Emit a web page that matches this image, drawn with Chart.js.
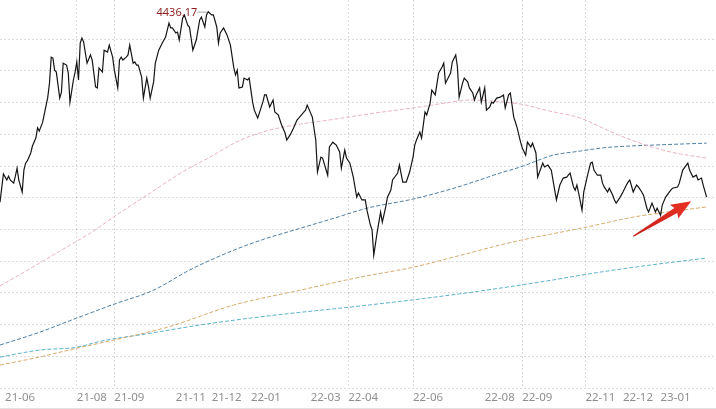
<!DOCTYPE html>
<html>
<head>
<meta charset="utf-8">
<script src="https://cdn.jsdelivr.net/npm/chart.js@4.4.1/dist/chart.umd.min.js"></script>
<style>
  html, body { margin: 0; padding: 0; background: #fff; }
  #wrap { width: 716px; height: 408px; border-bottom: 1px solid #e2e2e2; }
  canvas { display: block; }
</style>
</head>
<body>
<div id="wrap"><canvas id="myChart" width="716" height="408"></canvas></div>
<script>
// x = trading day index, y = index level
const priceDays = [0,2,4,5,6,8,9,10,11,13,14,15,16,18,19,21,22,23,25,28,29,30,31,32,33,35,36,37,39,40,41,43,44,45,46,47,48,49,50,51,53,54,56,57,58,60,61,63,64,66,67,69,70,71,72,74,75,76,78,79,80,81,83,84,86,87,88,90,91,93,95,97,98,99,100,101,103,104,105,107,108,110,111,113,115,117,118,120,121,122,124,125,127,128,129,131,133,135,137,138,139,140,142,143,145,146,148,149,151,154,155,156,158,160,161,163,165,167,168,170,172,174,175,178,179,180,183,185,186,188,189,192,193,195,197,199,200,202,203,205,207,209,210,212,214,215,217,218,219,221,223,224,226,227,229,230,233,234,236,238,240,242,243,244,246,247,249,250,252,253,255,257,259,260,261,264,265,267,268,269,271,272,274,275,277,278,279,281,282,284,285,287,288,289,291,293,295,296,298,299,301,302,303,305,306,308,309,311,312,314,315,318,319,321,323,325,326,328,330,332,334,336,337,338,339,341,342,344,346,347,348,350,352,353,354,356,357,359,360,361,363,365,367,368,369,371,372,373,374,376,377,379,380,382,384,385,387,388,390,393,394,397,398,400,403,404,406,408,409,411,412,414]
const priceValues = [3836,3925,3906,3918,3906,3896,3918,3943,3906,3868,3937,3959,3966,3991,4013,4038,4070,4060,4088,4167,4211,4293,4290,4252,4246,4164,4183,4274,4268,4243,4151,4221,4246,4278,4221,4337,4353,4341,4306,4274,4300,4284,4199,4196,4259,4246,4315,4309,4331,4293,4252,4196,4284,4293,4284,4293,4300,4331,4274,4278,4268,4268,4230,4164,4227,4199,4164,4215,4274,4315,4337,4356,4378,4400,4385,4385,4369,4372,4347,4416,4426,4394,4388,4315,4347,4410,4419,4388,4426,4436.17,4426,4426,4388,4337,4369,4385,4363,4331,4259,4237,4252,4196,4199,4227,4221,4227,4151,4126,4101,4151,4174,4174,4136,4158,4120,4111,4079,4054,4032,4048,4070,4095,4101,4120,4126,4142,4104,4032,3931,3978,3975,3921,4010,4025,4016,3994,3943,4000,3975,3959,3915,3852,3865,3843,3843,3811,3764,3748,3669,3742,3805,3773,3821,3852,3874,3906,3928,3953,3899,3899,3931,3978,4016,4032,4057,4038,4120,4111,4148,4189,4174,4243,4262,4274,4211,4243,4278,4300,4262,4167,4211,4227,4215,4196,4180,4158,4174,4196,4151,4196,4126,4136,4151,4148,4164,4167,4174,4133,4174,4180,4104,4088,4070,4025,4007,3984,4025,4010,4022,3991,3915,3959,3947,3953,3937,3874,3843,3890,3912,3915,3928,3884,3874,3890,3865,3811,3868,3915,3959,3962,3937,3921,3921,3896,3884,3868,3880,3858,3843,3833,3849,3868,3890,3899,3906,3868,3880,3890,3884,3868,3858,3817,3805,3833,3805,3817,3795,3827,3852,3874,3880,3884,3896,3937,3959,3937,3915,3921,3906,3912,3890,3852]

// moving averages
const pinkDays = [0,18,35,53,70,88,105,123,141,158,176,193,211,228,246,264,275,287,305,322,340,357,375,393,414]
const pinkValues = [3572,3628,3682,3739,3802,3865,3925,3978,4032,4063,4082,4095,4110,4123,4136,4151,4158,4155,4145,4123,4101,4060,4022,3994,3975]
const blueDays = [0,23,45,67,90,111,137,155,176,196,215,242,264,281,293,305,324,340,353,369,383,398,414]
const blueValues = [3386,3426,3471,3515,3559,3622,3685,3720,3754,3786,3817,3846,3877,3906,3928,3947,3984,3997,4007,4013,4016,4019,4022]
const orangeDays = [0,23,45,66,98,137,176,211,242,270,293,305,344,371,387,414]
const orangeValues = [3323,3348,3376,3401,3442,3512,3559,3600,3631,3669,3701,3716,3758,3789,3802,3821]
const cyanDays = [0,23,45,59,88,117,156,211,246,281,316,352,381,414]
const cyanValues = [3348,3370,3379,3398,3423,3449,3477,3509,3531,3556,3584,3616,3638,3660]

// axis
const monthLabels = ['21-06','21-08','21-09','21-11','21-12','22-01','22-03','22-04','22-06','22-08','22-09','22-11','22-12','23-01']
const monthDays = [3,45,67,103,124,147,182,204,242,284,306,343,365,387]
const gridMonths = ['21-08','21-09','22-04','22-06','22-09','22-11']
const levelGrid = [3250,3350,3450,3550,3650,3750,3850,3950,4050,4150,4250,4350]

const arrowFrom = {x: 371, y: 3729}
const arrowTo = {x: 405, y: 3839}

const gridColor = 'rgba(0,0,0,0.14)'

function pts(days, vals) {
  return days.map((d, i) => ({x: d, y: vals[i]}))
}

function maLine(days, vals, color) {
  return {
    data: pts(days, vals),
    borderColor: color,
    borderWidth: 1,
    borderDash: [4, 2],
    pointRadius: 0,
    cubicInterpolationMode: 'monotone',
    fill: false
  }
}

const extras = {
  id: 'extras',
  afterDatasetsDraw(chart) {
    const c = chart.ctx
    const xs = chart.scales.x, ys = chart.scales.y

    // max label
    let mi = 0
    priceValues.forEach((v, i) => { if (v > priceValues[mi]) mi = i })
    const px = xs.getPixelForValue(priceDays[mi])
    const py = ys.getPixelForValue(priceValues[mi])
    c.save()
    c.strokeStyle = '#a8a8a8'
    c.lineWidth = 1
    c.beginPath()
    c.moveTo(px - 11, py + 0.5)
    c.lineTo(px - 1, py + 0.5)
    c.stroke()
    c.font = '11px "Noto Sans"'
    c.fillStyle = '#8e1f1f'
    c.textAlign = 'right'
    c.textBaseline = 'middle'
    c.fillText(priceValues[mi].toFixed(2), px - 11, py + 1)

    // red arrow
    const fx = xs.getPixelForValue(arrowFrom.x), fy = ys.getPixelForValue(arrowFrom.y)
    const tx = xs.getPixelForValue(arrowTo.x), ty = ys.getPixelForValue(arrowTo.y)
    const len = Math.hypot(tx - fx, ty - fy)
    const ux = (tx - fx) / len, uy = (ty - fy) / len
    const nx = -uy, ny = ux
    const headLen = 18, headW = 8, neckW = 2.8, tailW = 0.6
    const bx = tx - ux * headLen, by = ty - uy * headLen
    const g = c.createLinearGradient(fx, fy, tx, ty)
    g.addColorStop(0, '#c51d16')
    g.addColorStop(1, '#ea3326')
    c.fillStyle = g
    c.beginPath()
    c.moveTo(fx + nx * tailW, fy + ny * tailW)
    c.lineTo(bx + nx * neckW, by + ny * neckW)
    c.lineTo(bx + nx * headW - ux * 2, by + ny * headW - uy * 2)
    c.lineTo(tx, ty)
    c.lineTo(bx - nx * headW - ux * 2, by - ny * headW - uy * 2)
    c.lineTo(bx - nx * neckW, by - ny * neckW)
    c.lineTo(fx - nx * tailW, fy - ny * tailW)
    c.closePath()
    c.fill()
    c.restore()
  }
}

const ctx = document.getElementById('myChart').getContext('2d')
new Chart(ctx, {
  type: 'line',
  data: {
    datasets: [
      {
        data: pts(priceDays, priceValues),
        borderColor: '#151515',
        borderWidth: 1.2,
        pointRadius: 0,
        tension: 0,
        fill: false
      },
      maLine(pinkDays, pinkValues, '#e9b3bd'),
      maLine(blueDays, blueValues, '#4f7fa3'),
      maLine(orangeDays, orangeValues, '#d6ab6c'),
      maLine(cyanDays, cyanValues, '#5db2cc')
    ]
  },
  options: {
    responsive: false,
    animation: false,
    devicePixelRatio: 1,
    layout: { padding: { bottom: 0 } },
    plugins: { legend: { display: false }, tooltip: { enabled: false } },
    scales: {
      x: {
        type: 'linear',
        min: 0,
        max: 419.5,
        afterBuildTicks: s => { s.ticks = monthDays.map(v => ({value: v})) },
        ticks: {
          autoSkip: false,
          maxRotation: 0,
          align: 'start',
          padding: 3,
          color: '#8f8f8f',
          font: { family: 'Noto Sans', size: 11.5 },
          callback: (v, i) => monthLabels[i]
        },
        grid: {
          drawTicks: false,
          color: c => (c.tick && gridMonths.includes(monthLabels[monthDays.indexOf(c.tick.value)])) ? gridColor : 'rgba(0,0,0,0)'
        },
        border: { display: false, dash: [2, 2] }
      },
      y: {
        min: 3250,
        max: 4473,
        afterBuildTicks: s => { s.ticks = levelGrid.map(v => ({value: v})) },
        ticks: { display: false },
        grid: { drawTicks: false, color: gridColor },
        border: { display: false, dash: [2, 2] }
      }
    }
  },
  plugins: [extras]
})
</script>
</body>
</html>
